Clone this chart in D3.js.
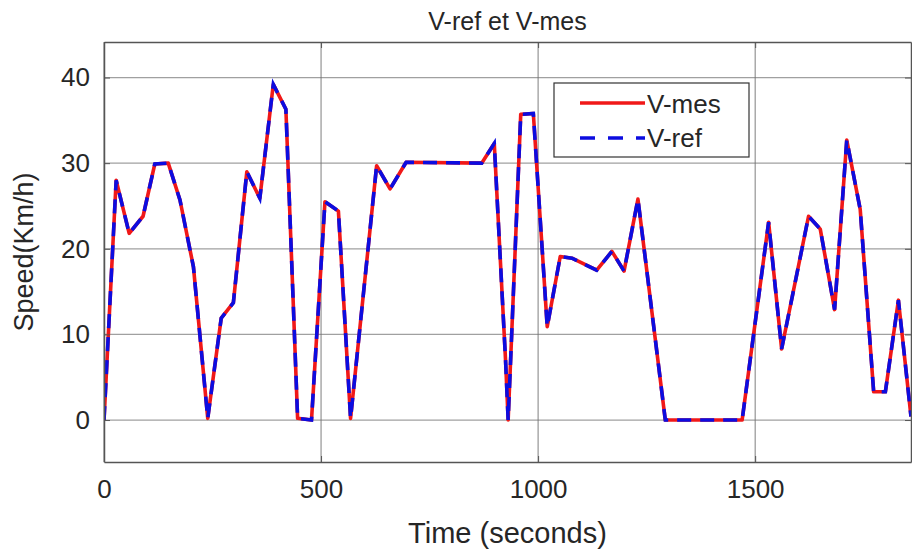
<!DOCTYPE html>
<html>
<head>
<meta charset="utf-8">
<script src="https://cdn.jsdelivr.net/npm/d3@7"></script>
<style>
  body { margin: 0; background: #fff; }
  svg { display: block; font-family: "Liberation Sans", Arial, sans-serif; }
</style>
</head>
<body>
<svg id="chart" width="912" height="552"></svg>
<script>
// data
var time = [0, 28, 58, 90, 117, 148, 175, 206, 239, 270, 298, 329, 359, 390, 419, 446, 478, 509, 540, 568, 628, 659, 696, 870, 899, 925, 931, 960, 989, 1021, 1051, 1078, 1135, 1170, 1198, 1230, 1293, 1470, 1531, 1561, 1623, 1650, 1683, 1711, 1742, 1773, 1800, 1830, 1859]
var vmes = [0, 28, 21.8, 23.8, 29.9, 30, 25.7, 17.9, 0.2, 11.9, 13.7, 29, 25.9, 39.2, 36.3, 0.2, 0, 25.5, 24.4, 0.2, 29.7, 27, 30.1, 30, 32.3, 7, 0, 35.7, 35.8, 10.9, 19.1, 18.9, 17.5, 19.7, 17.4, 25.8, 0, 0, 23.1, 8.3, 23.8, 22.3, 12.9, 32.7, 24.6, 3.3, 3.3, 14, 0.4]
var vref = [0, 28, 21.8, 23.8, 29.9, 30, 25.7, 17.9, 0.2, 11.9, 13.7, 29, 25.9, 39.2, 36.3, 0.2, 0, 25.5, 24.4, 0.2, 29.7, 27, 30.1, 30, 32.3, 7, 0, 35.7, 35.8, 10.9, 19.1, 18.9, 17.5, 19.7, 17.4, 25.8, 0, 0, 23.1, 8.3, 23.8, 22.3, 12.9, 32.7, 24.6, 3.3, 3.3, 14, 0.4]
var xTicks = [0, 500, 1000, 1500]
var yTicks = [0, 10, 20, 30, 40]
var seriesNames = ["V-mes", "V-ref"]

const M = {left: 104, right: 911, top: 42, bottom: 462}
const TXT = "#262626"

const x = d3.scaleLinear().domain([0, 1859]).range([M.left, M.right])
const y = d3.scaleLinear().domain([-4.9, 44.15]).range([M.bottom, M.top])

const svg = d3.select("#chart")

// grid
svg.append("g").selectAll("line").data(yTicks).enter().append("line")
  .attr("x1", M.left).attr("x2", M.right)
  .attr("y1", d => y(d)).attr("y2", d => y(d))
  .attr("stroke", "#a0a0a0").attr("stroke-width", 1.2)
svg.append("g").selectAll("line").data(xTicks).enter().append("line")
  .attr("x1", d => x(d)).attr("x2", d => x(d))
  .attr("y1", M.top).attr("y2", M.bottom)
  .attr("stroke", "#707070").attr("stroke-width", 0.9)

svg.append("defs").append("clipPath").attr("id", "clip")
  .append("rect").attr("x", M.left).attr("y", M.top)
  .attr("width", M.right - M.left).attr("height", M.bottom - M.top)

const line = d3.line().x(d => x(d[0])).y(d => y(d[1]))
const plot = svg.append("g").attr("clip-path", "url(#clip)")

plot.append("path").datum(d3.zip(time, vmes))
  .attr("d", line).attr("fill", "none")
  .attr("stroke", "#f01818").attr("stroke-width", 3.6)
  .attr("stroke-linejoin", "round")

plot.append("path").datum(d3.zip(time, vref))
  .attr("d", line).attr("fill", "none")
  .attr("stroke", "#0c0ce0").attr("stroke-width", 3.6)
  .attr("stroke-dasharray", "14,9")

// axes (ticks inside, box all round)
const gx = svg.append("g").attr("transform", `translate(0,${M.bottom})`)
  .call(d3.axisBottom(x).tickValues(xTicks).tickFormat(d3.format("d")).tickSize(-6).tickPadding(18).tickSizeOuter(0))
const gxTop = svg.append("g").attr("transform", `translate(0,${M.top})`)
  .call(d3.axisTop(x).tickValues(xTicks).tickSize(-6).tickFormat("").tickSizeOuter(0))
const gy = svg.append("g").attr("transform", `translate(${M.left},0)`)
  .call(d3.axisLeft(y).tickValues(yTicks).tickSize(-6).tickPadding(14).tickSizeOuter(0))
const gyR = svg.append("g").attr("transform", `translate(${M.right},0)`)
  .call(d3.axisRight(y).tickValues(yTicks).tickSize(-6).tickFormat("").tickSizeOuter(0))

;[gx, gxTop, gy, gyR].forEach(g => {
  g.select(".domain").attr("stroke", "#555").attr("stroke-width", 1.5)
  g.selectAll(".tick line").attr("stroke", "#555")
  g.selectAll("text").attr("fill", TXT).attr("font-size", 26)
    .attr("font-family", "Liberation Sans, Arial, sans-serif")
})

// titles
svg.append("text").attr("x", (M.left + M.right) / 2).attr("y", 30)
  .attr("text-anchor", "middle").attr("font-size", 25).attr("fill", TXT)
  .text("V-ref et V-mes")
svg.append("text").attr("x", (M.left + M.right) / 2).attr("y", 543)
  .attr("text-anchor", "middle").attr("font-size", 29).attr("fill", TXT)
  .text("Time (seconds)")
svg.append("text").attr("transform", `translate(33,${(M.top + M.bottom) / 2}) rotate(-90)`)
  .attr("text-anchor", "middle").attr("font-size", 27).attr("fill", TXT)
  .text("Speed(Km/h)")

// legend
const lg = svg.append("g")
lg.append("rect").attr("x", 554).attr("y", 83).attr("width", 195).attr("height", 74)
  .attr("fill", "#fff").attr("stroke", "#333").attr("stroke-width", 1.2)
lg.append("line").attr("x1", 580).attr("x2", 645).attr("y1", 103).attr("y2", 103)
  .attr("stroke", "#f01818").attr("stroke-width", 3.6)
lg.append("line").attr("x1", 580).attr("x2", 645).attr("y1", 138).attr("y2", 138)
  .attr("stroke", "#0c0ce0").attr("stroke-width", 3.6).attr("stroke-dasharray", "15,13")
lg.selectAll("text.name").data(seriesNames).enter().append("text")
  .attr("x", 647).attr("y", (d, i) => 113 + i * 34)
  .attr("font-size", 26).attr("fill", TXT).text(d => d)
</script>
</body>
</html>
